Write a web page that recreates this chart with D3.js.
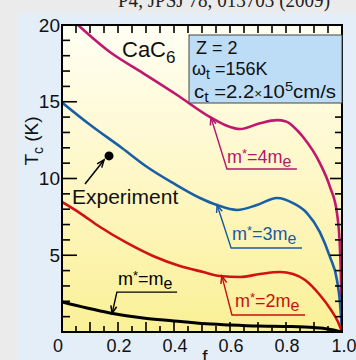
<!DOCTYPE html>
<html>
<head>
<meta charset="utf-8">
<script src="https://cdn.jsdelivr.net/npm/d3@7"></script>
<style>
  html, body { margin: 0; padding: 0; background: #ebebeb; }
  svg { display: block; }
  text { font-family: "Liberation Sans", Arial, sans-serif; }
</style>
</head>
<body>
<svg id="chart" width="356" height="360"></svg>
<script>
// Tc versus f for CaC6 at several effective masses
const fM4  = [0.057, 0.171, 0.289, 0.411, 0.529, 0.582, 0.636, 0.707, 0.768, 0.800, 0.839, 0.861, 0.921, 0.957, 0.982, 0.993, 0.997, 1.0];
const tcM4 = [20.0, 18.24, 16.87, 15.44, 14.0, 13.49, 13.22, 13.6, 13.8, 13.72, 13.16, 12.7, 11.0, 9.45, 7.75, 5.34, 2.9, 0];

const fM3  = [0, 0.1, 0.214, 0.304, 0.396, 0.493, 0.554, 0.625, 0.696, 0.768, 0.825, 0.875, 0.921, 0.957, 0.982, 0.993, 1.0];
const tcM3 = [14.95, 13.5, 11.99, 10.75, 9.71, 8.73, 8.27, 7.95, 8.27, 8.73, 8.40, 7.75, 6.51, 4.89, 3.39, 1.89, 0];

const fM2  = [0, 0.064, 0.136, 0.232, 0.325, 0.421, 0.504, 0.564, 0.636, 0.707, 0.779, 0.825, 0.868, 0.921, 0.961, 0.986, 1.0];
const tcM2 = [8.47, 7.75, 6.84, 5.80, 4.95, 4.30, 3.91, 3.65, 3.58, 3.78, 3.91, 3.78, 3.39, 2.41, 1.43, 0.65, 0];

const fM1  = [0, 0.089, 0.171, 0.289, 0.4, 0.5, 0.6, 0.7, 0.8, 0.9, 0.95, 1.0];
const tcM1 = [1.95, 1.56, 1.24, 0.91, 0.72, 0.55, 0.46, 0.39, 0.36, 0.29, 0.2, 0];

const expF  = [0.168];
const expTc = [11.47];

const xTickLabels = ["0", "0.2", "0.4", "0.6", "0.8", "1.0"];
const yTickLabels = ["5", "10", "15", "20"];

const svg = d3.select("#chart");
const W = 356, H = 360;
const L = 62, R = 342, T = 25, B = 332;

const x = d3.scaleLinear().domain([0, 1]).range([L, R]);
const y = d3.scaleLinear().domain([0, 20]).range([B, T]);

// backgrounds
svg.append("rect").attr("width", W).attr("height", H).attr("fill", "#ebebeb");
svg.append("text")
  .attr("x", 118).attr("y", 7)
  .attr("textLength", 212).attr("lengthAdjust", "spacingAndGlyphs")
  .style("font-family", "'Liberation Serif', 'Times New Roman', serif")
  .style("font-size", "22px").attr("fill", "#222")
  .text("P4, JPSJ 78, 013703 (2009)");
svg.append("rect").attr("x", 17).attr("y", 13).attr("width", W - 17).attr("height", H - 13).attr("fill", "#e3eef9");

const defs = svg.append("defs");
const grad = defs.append("linearGradient").attr("id", "bg").attr("x1", 0).attr("y1", 0).attr("x2", 0).attr("y2", 1);
grad.append("stop").attr("offset", "0%").attr("stop-color", "#fffff4");
grad.append("stop").attr("offset", "50%").attr("stop-color", "#fef7c6");
grad.append("stop").attr("offset", "100%").attr("stop-color", "#faf096");
defs.append("clipPath").attr("id", "clip").append("rect")
  .attr("x", L).attr("y", T).attr("width", R - L).attr("height", B - T);

svg.append("rect").attr("x", L).attr("y", T).attr("width", R - L).attr("height", B - T).attr("fill", "url(#bg)");

// curves
const series = [
  { f: fM4, tc: tcM4, color: "#c0176f", width: 2.6 },
  { f: fM3, tc: tcM3, color: "#1a5ea6", width: 2.6 },
  { f: fM2, tc: tcM2, color: "#d01212", width: 2.6 },
  { f: fM1, tc: tcM1, color: "#000000", width: 3 }
];
const line = d3.line().x(d => x(d[0])).y(d => y(d[1])).curve(d3.curveMonotoneX);
const gCurves = svg.append("g").attr("clip-path", "url(#clip)");
series.forEach(s => {
  gCurves.append("path")
    .datum(s.f.map((v, i) => [v, s.tc[i]]))
    .attr("d", line)
    .attr("fill", "none")
    .attr("stroke", s.color)
    .attr("stroke-width", s.width)
    .attr("stroke-linejoin", "round");
});

// ticks
const gT = svg.append("g").attr("stroke", "#000").attr("stroke-width", 1.6);
d3.range(0, 21).forEach(v => {
  const major = v % 5 === 0;
  gT.append("line").attr("x1", L).attr("x2", L + (major ? 15 : 8)).attr("y1", y(v)).attr("y2", y(v));
  gT.append("line").attr("x1", R).attr("x2", R - (major ? 12 : 7)).attr("y1", y(v)).attr("y2", y(v));
});
d3.range(0, 21).forEach(i => {
  const v = i * 0.05;
  const tenth = i % 2 === 0;
  gT.append("line").attr("x1", x(v)).attr("x2", x(v)).attr("y1", B).attr("y2", B - (tenth ? 10 : 6));
  gT.append("line").attr("x1", x(v)).attr("x2", x(v)).attr("y1", T).attr("y2", T + 8);
});

// frame
svg.append("rect").attr("x", L).attr("y", T).attr("width", R - L).attr("height", B - T)
  .attr("fill", "none").attr("stroke", "#000").attr("stroke-width", 2);

// tick labels
xTickLabels.forEach((lbl, i) => {
  svg.append("text").attr("x", x(+lbl)).attr("y", 352)
    .attr("dx", i === 0 ? -4 : (i === xTickLabels.length - 1 ? 2 : 1))
    .attr("text-anchor", "middle").style("font-size", "18px").attr("fill", "#111").text(lbl);
});
yTickLabels.forEach(lbl => {
  svg.append("text").attr("x", 60).attr("y", y(+lbl)).attr("dy", "0.35em")
    .attr("text-anchor", "end").style("font-size", "19px").attr("fill", "#111").text(lbl);
});

// axis titles
svg.append("text").attr("x", 205).attr("y", 363).attr("text-anchor", "middle")
  .style("font-size", "19px").attr("fill", "#111").text("f");
const yt = svg.append("text").attr("transform", "translate(38,141) rotate(-90)")
  .attr("text-anchor", "middle").style("font-size", "19px").attr("fill", "#111");
yt.append("tspan").text("T");
yt.append("tspan").attr("dy", 5).style("font-size", "14px").text("c");
yt.append("tspan").attr("dy", -5).text(" (K)");

// compound label
const cac = svg.append("text").attr("x", 122).attr("y", 57).style("font-size", "22px").attr("fill", "#111");
cac.append("tspan").text("CaC");
cac.append("tspan").attr("dy", 6).style("font-size", "17px").text("6");

// parameter box
svg.append("rect").attr("x", 189).attr("y", 35).attr("width", R - 189).attr("height", 68)
  .attr("fill", "#bddcf6").attr("stroke", "#444").attr("stroke-width", 1);
svg.append("text").attr("x", 196).attr("y", 54).style("font-size", "18px").attr("fill", "#111").text("Z = 2");
const om = svg.append("text").attr("x", 192).attr("y", 75).style("font-size", "18px").attr("fill", "#111");
om.append("tspan").text("ω");
om.append("tspan").attr("dy", 4).style("font-size", "14px").text("t");
om.append("tspan").attr("dy", -4).text(" =156K");
const ct = svg.append("text").attr("x", 194).attr("y", 98).style("font-size", "18px").attr("fill", "#111")
  .attr("textLength", 142).attr("lengthAdjust", "spacingAndGlyphs");
ct.append("tspan").text("c");
ct.append("tspan").attr("dy", 4).style("font-size", "14px").text("t");
ct.append("tspan").attr("dy", -4).text(" =2.2");
ct.append("tspan").style("font-size", "12px").text("×");
ct.append("tspan").text("10");
ct.append("tspan").attr("dy", -7).style("font-size", "13px").text("5");
ct.append("tspan").attr("dy", 7).text("cm/s");

// callouts: arrow tip on the curve, elbow, then underline under the label
function tcAt(s, f) {
  for (let i = 1; i < s.f.length; i++) {
    if (f <= s.f[i]) {
      const t = (f - s.f[i - 1]) / (s.f[i] - s.f[i - 1]);
      return s.tc[i - 1] + t * (s.tc[i] - s.tc[i - 1]);
    }
  }
  return s.tc[s.tc.length - 1];
}
function arrowHead(g, x0, y0, x1, y1, color) {
  const a = Math.atan2(y1 - y0, x1 - x0), len = 8, spread = 0.38;
  const p1 = [x1 - len * Math.cos(a - spread), y1 - len * Math.sin(a - spread)];
  const p2 = [x1 - len * Math.cos(a + spread), y1 - len * Math.sin(a + spread)];
  g.append("path").attr("d", `M${p1[0]},${p1[1]}L${x1},${y1}L${p2[0]},${p2[1]}`)
    .attr("fill", "none").attr("stroke", color).attr("stroke-width", 1.5);
}
const callouts = [
  { s: series[0], tipF: 0.532, elbowF: 0.589, elbowT: 10.62, endF: 0.839, text: "4m", tx: 227, ty: 163, color: "#b3176a" },
  { s: series[1], tipF: 0.554, elbowF: 0.604, elbowT: 5.47,  endF: 0.857, text: "3m", tx: 232, ty: 240, color: "#1a5aa0" },
  { s: series[2], tipF: 0.571, elbowF: 0.607, elbowT: 1.11,  endF: 0.868, text: "2m", tx: 235, ty: 307, color: "#c81010" },
  { s: series[3], tipF: 0.179, elbowF: 0.196, elbowT: 2.6,   endF: 0.411, text: "m",  tx: 118, ty: 285, color: "#000000" }
];
const gC = svg.append("g");
callouts.forEach(c => {
  const tx0 = x(c.tipF), ty0 = y(tcAt(c.s, c.tipF));
  const ex = x(c.elbowF), ey = y(c.elbowT);
  gC.append("path").attr("d", `M${tx0},${ty0}L${ex},${ey}L${x(c.endF)},${ey}`)
    .attr("fill", "none").attr("stroke", c.color).attr("stroke-width", 1.4);
  arrowHead(gC, ex, ey, tx0, ty0, c.color);
  const t = gC.append("text").attr("x", c.tx).attr("y", c.ty).style("font-size", "18px").attr("fill", c.color);
  t.append("tspan").text("m");
  t.append("tspan").attr("dy", -5).style("font-size", "13px").text("*");
  t.append("tspan").attr("dy", 5).text("=" + c.text);
  t.append("tspan").attr("dy", 4).style("font-size", "16px").text("e");
});

// experimental point
const ex0 = x(expF[0]), ey0 = y(expTc[0]);
svg.append("circle").attr("cx", ex0).attr("cy", ey0).attr("r", 4.5).attr("fill", "#000");
svg.append("line").attr("x1", 85).attr("y1", 184).attr("x2", ex0 - 5).attr("y2", ey0 + 4)
  .attr("stroke", "#000").attr("stroke-width", 1.5);
arrowHead(svg, 85, 184, ex0 - 5, ey0 + 4, "#000");
svg.append("text").attr("x", 72).attr("y", 204).style("font-size", "21px").attr("fill", "#111").text("Experiment");
</script>
</body>
</html>
